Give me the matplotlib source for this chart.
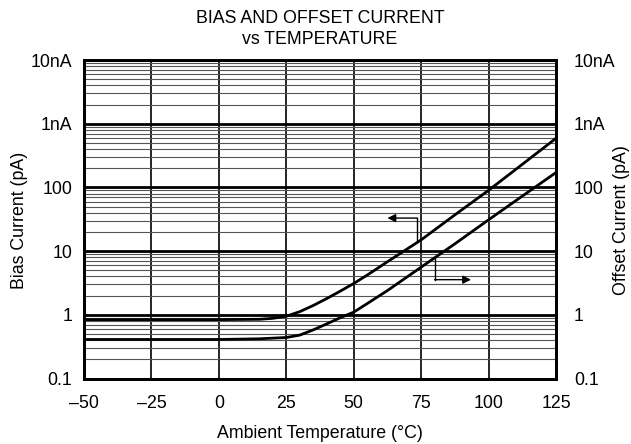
import matplotlib
matplotlib.use("Agg")
import matplotlib.pyplot as plt
from matplotlib.ticker import NullFormatter, LogLocator

plt.rcParams['font.family'] = ['Liberation Sans', 'DejaVu Sans']

# Data
bias_temp = [-50, 0, 15, 20, 25, 30, 35, 40, 45, 50, 55, 62.5, 75, 87.5, 100, 112.5, 125]
bias_pA = [0.84, 0.84, 0.85, 0.88, 0.95, 1.12, 1.4, 1.8, 2.35, 3.1, 4.2, 6.8, 15, 37, 90, 230, 590]
offset_temp = [-50, 0, 15, 20, 25, 30, 35, 40, 45, 50, 55, 62.5, 75, 87.5, 100, 112.5, 125]
offset_pA = [0.41, 0.41, 0.42, 0.43, 0.44, 0.48, 0.58, 0.72, 0.9, 1.1, 1.5, 2.4, 5.6, 13, 31, 73, 171]

x_ticks = [-50, -25, 0, 25, 50, 75, 100, 125]
x_labels = ['\u201350', '\u201325', '0', '25', '50', '75', '100', '125']
y_ticks = [0.1, 1, 10, 100, 1000, 10000]
y_labels = ['0.1', '1', '10', '100', '1nA', '10nA']

FS = 12.8
W, H = 631, 444

fig = plt.figure(figsize=(6.31, 4.44), dpi=100)
ax = fig.add_axes([84/W, 1-378.5/H, (556-84)/W, (378.5-60)/H])
ax.set_yscale('log')
ax.set_xlim(-50, 125)
ax.set_ylim(0.1, 10000)

ax.set_xticks(x_ticks)
ax.set_xticklabels(x_labels)
ax.set_yticks(y_ticks)
ax.set_yticklabels(y_labels)
ax.yaxis.set_minor_locator(LogLocator(base=10, subs=range(2, 10), numticks=20))
ax.yaxis.set_minor_formatter(NullFormatter())
ax.tick_params(axis='y', which='both', length=0, labelsize=FS, pad=8.5)
ax.tick_params(axis='x', which='both', length=0, labelsize=FS, pad=12)

ax.grid(True, which='major', axis='y', color='black', lw=2)
ax.grid(True, which='minor', axis='y', color='#555555', lw=0.8)
ax.grid(True, which='major', axis='x', color='black', lw=1.2)
ax.set_axisbelow(True)
for s in ax.spines.values():
    s.set_linewidth(2)

ax.plot(bias_temp, bias_pA, color='black', lw=2, solid_capstyle='round', solid_joinstyle='round')
ax.plot(offset_temp, offset_pA, color='black', lw=2, solid_capstyle='round', solid_joinstyle='round')

# pointer arrows
ax.plot([73.5, 73.5], [14.8, 33], color='black', lw=1)
ax.annotate('', xy=(62.5, 33), xytext=(73.5, 33),
            arrowprops=dict(arrowstyle='-|>', color='black', lw=1,
                            mutation_scale=12, shrinkA=0, shrinkB=0))
ax.plot([80, 80], [3.56, 8.1], color='black', lw=1)
ax.annotate('', xy=(93.5, 3.56), xytext=(80, 3.56),
            arrowprops=dict(arrowstyle='-|>', color='black', lw=1,
                            mutation_scale=12, shrinkA=0, shrinkB=0))

fig.text(320/W, 1-433/H, 'Ambient Temperature (\u00b0C)', fontsize=FS, ha='center', va='center')
fig.text(20/W, 1-220/H, 'Bias Current (pA)', fontsize=FS, ha='center', va='center', rotation=90)
fig.text(622/W, 1-220/H, 'Offset Current (pA)', fontsize=FS, ha='center', va='center', rotation=90)
fig.text(320/W, 1-29/H, 'BIAS AND OFFSET CURRENT\nvs TEMPERATURE', fontsize=FS,
         ha='center', va='center', linespacing=1.28, multialignment='center')

ax2 = ax.twinx()
ax2.set_yscale('log')
ax2.set_ylim(0.1, 10000)
ax2.set_yticks(y_ticks)
ax2.set_yticklabels(y_labels)
ax2.yaxis.set_minor_formatter(NullFormatter())
ax2.tick_params(axis='both', which='both', length=0, labelsize=FS, pad=13)
for s in ax2.spines.values():
    s.set_linewidth(2)

fig.savefig('out.png', dpi=100)
